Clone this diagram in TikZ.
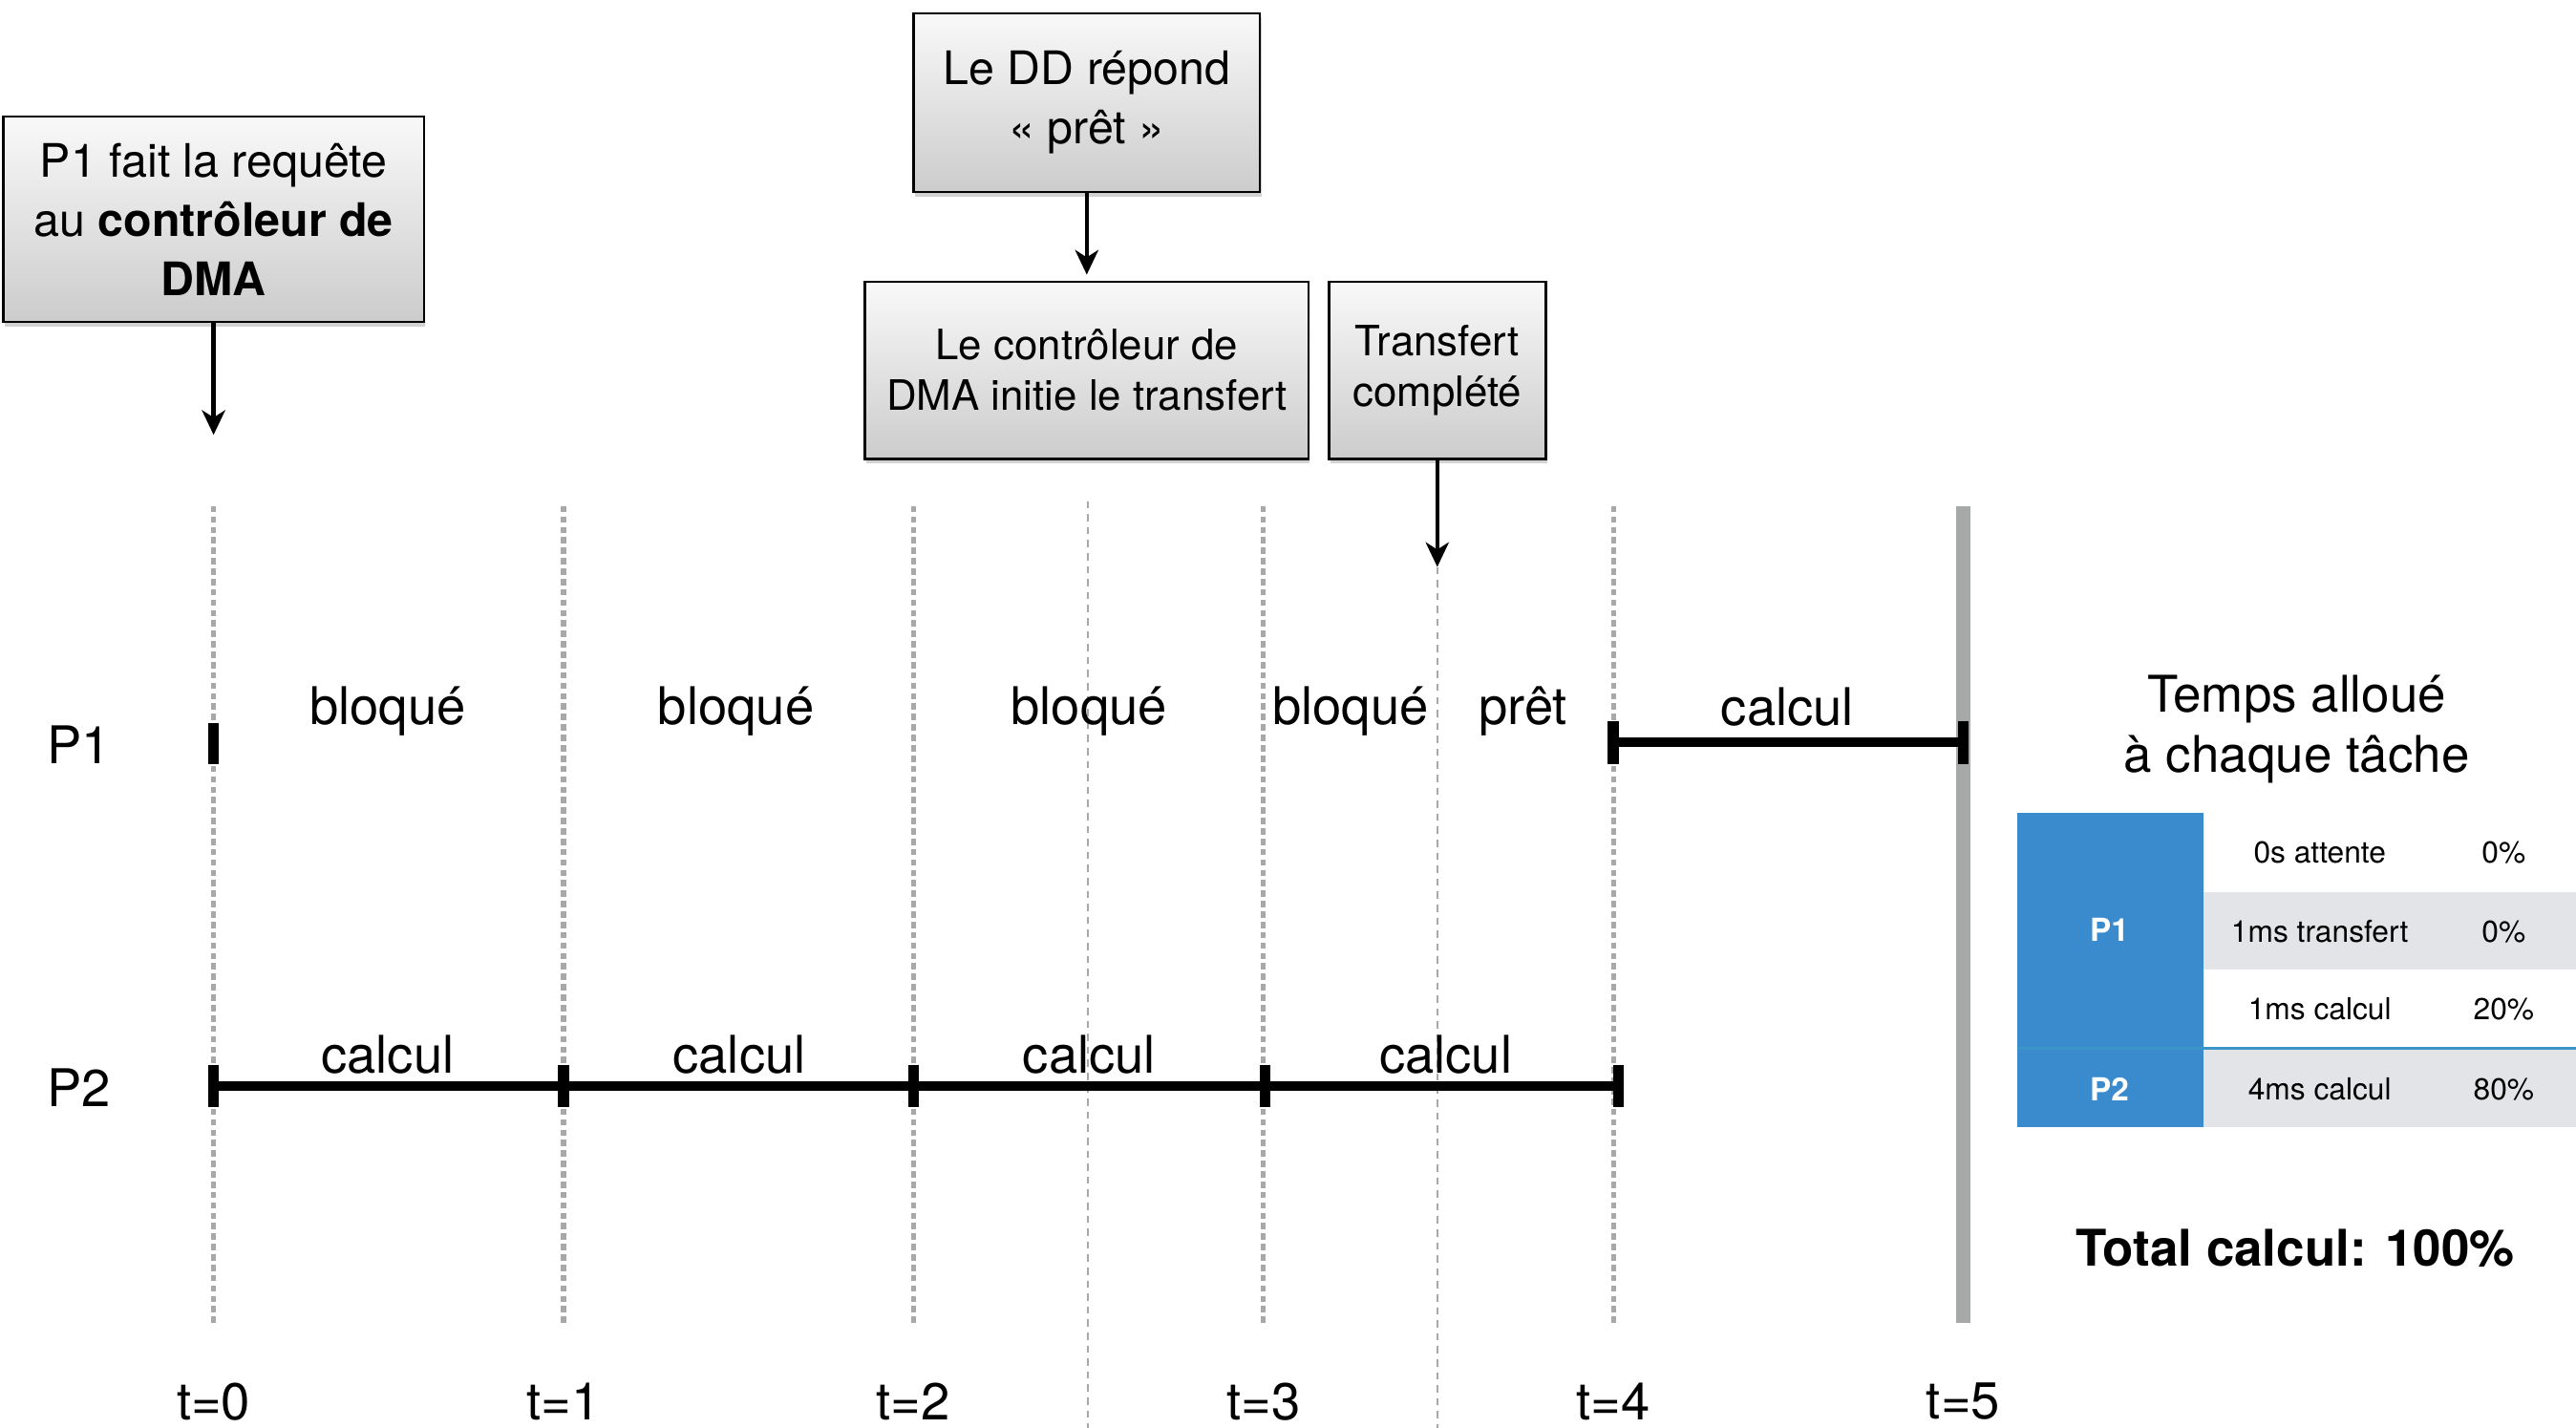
\documentclass[tikz,border=0pt]{standalone}
\usepackage{fontspec}
\setmainfont{TeX Gyre Heros}
\usepackage{tikz}
\usetikzlibrary{positioning,arrows.meta,shadows}
\definecolor{CellBlue}{RGB}{58,139,205}
\definecolor{SepBlue}{RGB}{58,149,200}
\definecolor{RowGray}{RGB}{227,228,232}
\definecolor{GridGray}{RGB}{168,168,168}
\definecolor{EndGray}{RGB}{166,169,168}

\begin{document}
\begin{tikzpicture}[
    x=0.02cm, y=-0.02cm,
    event/.style={rectangle, draw=black, line width=0.8pt, top color=gray!5, bottom color=gray!40,
        drop shadow={shadow xshift=0.5pt, shadow yshift=-1.5pt, opacity=0.35}, align=center, inner sep=2pt},
    bigtxt/.style={font=\fontsize{16}{20.5}\selectfont},
    smalltxt/.style={font=\fontsize{14.5}{17.6}\selectfont},
    arr/.style={-{Stealth[length=8.5pt, width=8pt, inset=2.5pt]}, line width=1.5pt},
    timegrid/.style={GridGray, line width=1.7pt, dash pattern=on 2.2pt off 1.4pt},
    fine/.style={GridGray, line width=0.6pt, dash pattern=on 2.5pt off 2pt},
    lbl/.style={font=\fontsize{18}{22}\selectfont},
    seg/.style={line width=3.3pt},
    tk/.style={line width=3.7pt},
    cell/.style={font=\fontsize{10.5}{12}\selectfont},
]
\fill[white] (0,0) rectangle (1568,869);
\useasboundingbox (0,0) rectangle (1568,869);

% events
\node[event, bigtxt, minimum width=5.12cm, minimum height=2.5cm] (req) at (130,133.5)
    {P1 fait la requête\\au \textbf{contrôleur de}\\\textbf{DMA}};
\node[event, bigtxt, minimum width=4.22cm, minimum height=2.18cm] (ddok) at (661.5,62.5)
    {Le DD répond\\« prêt »};
\node[event, smalltxt, minimum width=5.4cm, minimum height=2.16cm, below=1.06cm of ddok] (dmago)
    {Le contrôleur de\\DMA initie le transfert};
\node[event, smalltxt, minimum width=2.64cm, minimum height=2.16cm, right=0.22cm of dmago] (xferdone)
    {Transfert\\complété};
\coordinate (reqend) at ([yshift=-1.36cm]req.south);
\coordinate (doneend) at ([yshift=-1.3cm]xferdone.south);

\draw[arr] (req) -- (reqend);
\draw[arr, shorten >=2pt] (ddok) -- (dmago);
\draw[arr] (xferdone) -- (doneend);

% time grid
\draw[fine] (662,305) -- (662,869);
\draw[fine] (doneend) -- (doneend |- 0,869);
\foreach \i in {0,...,4}
    \draw[timegrid] (130+213*\i,308) -- (130+213*\i,805);
\draw[EndGray, line width=5pt] (1195,308) -- (1195,805);
\foreach \i in {0,...,5}
    \node[lbl, inner sep=0pt] (t\i) at (130+213*\i,853) {t=\i};

% P1
\node[lbl] (p1) at (48,453) {P1};
\draw[tk] (130,440) -- (130,465);
\foreach \x [count=\k] in {236,448,663,822}
    \node[lbl] (blk\k) at (\x,433) {bloqué};
\node[lbl] (ready) at (927,433) {prêt};
\node[lbl] (p1calc) at (1088,430) {calcul};
\draw[seg] (982,452) -- (1195,452);
\foreach \x in {982,1195}
    \draw[tk] (\x,439) -- (\x,465);

% P2
\node[lbl] (p2) at (48,662) {P2};
\draw[seg] (130,661) -- (985,661);
\foreach \x in {130,343,556,770,985}
    \draw[tk] (\x,648) -- (\x,674);
\foreach \x [count=\k] in {236,450,663,880}
    \node[lbl] (cal\k) at (\x,642) {calcul};

% table
\node[font=\fontsize{17.5}{21}\selectfont, align=center] (title) at (1398,444) {Temps alloué\\à chaque tâche};
\fill[CellBlue] (1228,495) rectangle (1341,686);
\fill[RowGray] (1341,543) rectangle (1568,590);
\fill[RowGray] (1341,638) rectangle (1568,686);
\draw[SepBlue, line width=1.2pt] (1228,638) -- (1568,638);
\node[font=\bfseries\fontsize{11}{13}\selectfont, text=white] (tp1) at (1284,566) {P1};
\node[font=\bfseries\fontsize{11}{13}\selectfont, text=white] (tp2) at (1284,663) {P2};
\foreach \y/\what/\pct [count=\k] in {519/0s attente/0\%, 567/1ms transfert/0\%, 614/1ms calcul/20\%, 663/4ms calcul/80\%} {
    \node[cell] (what\k) at (1412,\y) {\what};
    \node[cell] (pct\k) at (1524,\y) {\pct};
}
\node[font=\bfseries\fontsize{17.5}{21}\selectfont] (total) at (1397,760) {Total calcul: 100\%};
\end{tikzpicture}
\end{document}
